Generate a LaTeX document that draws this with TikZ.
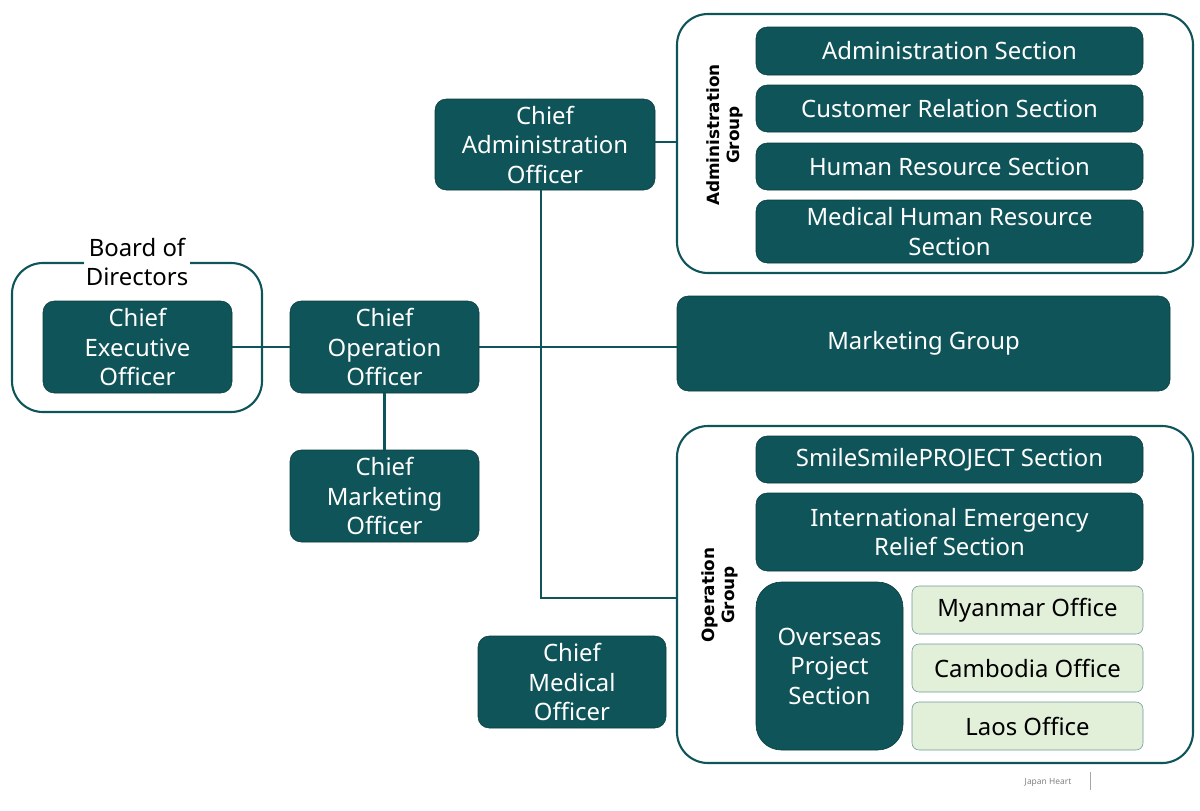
\documentclass[tikz,border=0pt]{standalone}
\usepackage{fontspec}
\setmainfont{Noto Sans}
\newfontfamily\grpfont{DejaVu Sans}[BoldFont={DejaVu Sans Bold}]
\definecolor{teal}{HTML}{0F5459}
\definecolor{paleg}{HTML}{E2EFD9}
\begin{document}
\begin{tikzpicture}
		[x=0.025cm,y=-0.025cm,
		sz/.style 2 args={minimum width=#1*0.025cm,minimum height=#2*0.025cm},
		box/.style={rounded corners=8pt,fill=teal,draw=teal!70!black,text=white,align=center,font=\fontsize{17}{21}\selectfont,inner sep=0pt},
		office/.style={rounded corners=5pt,fill=paleg,draw=teal!60,text=black,align=center,font=\fontsize{17}{20}\selectfont,inner sep=0pt},
		group/.style={rounded corners=22pt,draw=teal,line width=1.5pt},
		glabel/.style={rotate=90,font=\grpfont\bfseries\fontsize{12}{14}\selectfont,align=center},
		link/.style={draw=teal,line width=1.5pt}]
		\useasboundingbox (0,0) rectangle (1200,810);
		% outlines
		\draw[group] (12,263) rectangle (262,412);
		\draw[group] (677,14) rectangle (1193,273);
		\draw[group] (677,426) rectangle (1193,763);
		\node[fill=white,align=center,font=\fontsize{17}{20}\selectfont,inner sep=1pt,name=bod] at (137,262) {Board of\\Directors};
		\node[glabel,name=ag] at (725,135) {Administration\\Group};
		\node[glabel,name=og] at (720,595) {Operation\\Group};
		% officers
		\node[box,sz={189}{92},name=ceo] at (137.5,347) {Chief\\Executive\\Officer};
		\node[box,sz={189}{92},name=coo] at (384.5,347) {Chief\\Operation\\Officer};
		\node[box,sz={189}{92},name=cmo] at (384.5,496) {Chief\\Marketing\\Officer};
		\node[box,sz={220}{91},name=cao] at (545,144.5) {Chief\\Administration\\Officer};
		\node[box,sz={188}{92},name=cmedo] at (572,682) {Chief\\Medical\\Officer};
		% sections
		\node[box,sz={387}{48},name=adm] at (949.5,51) {Administration Section};
		\node[box,sz={387}{47},name=cr] at (949.5,108.5) {Customer Relation Section};
		\node[box,sz={387}{47},name=hr] at (949.5,166.5) {Human Resource Section};
		\node[box,sz={387}{63},name=mhr] at (949.5,231.5) {Medical Human Resource\\Section};
		\node[box,sz={493}{95},name=mkt] at (923.5,343.5) {Marketing Group};
		\node[box,sz={387}{47},name=ssp] at (949.5,459.5) {SmileSmilePROJECT Section};
		\node[box,sz={387}{78},name=ier] at (949.5,532) {International Emergency\\Relief Section};
		\node[box,rounded corners=18pt,sz={147}{168},name=ops] at (829.5,666) {Overseas\\Project\\Section};
		\node[office,sz={231}{48},name=mya] at (1027.5,610) {Myanmar Office};
		\node[office,sz={231}{48},name=cam] at (1027.5,668) {Cambodia Office};
		\node[office,sz={231}{48},name=lao] at (1027.5,726) {Laos Office};
		% connectors
		\coordinate (agl) at (677,142);
		\coordinate (ogl) at (677,598);
		\coordinate (mkl) at (677,349);
		\draw[link] (ceo.east) -- (coo.west);
		\draw[link] (coo.east) -- (coo.east-|mkl);
		\draw[link] (coo.south) -- (cmo.north);
		\draw[link] (cao.east|-agl) -- (agl);
		\draw[link] (cao.south-|541,0) |- (ogl);
		% footer
		\node[text=gray,font=\fontsize{6}{7}\selectfont,name=jh] at (1048,782) {Japan Heart};
		\draw[gray!70] (1090,772) -- (1090,790);
	\end{tikzpicture}
\end{document}
